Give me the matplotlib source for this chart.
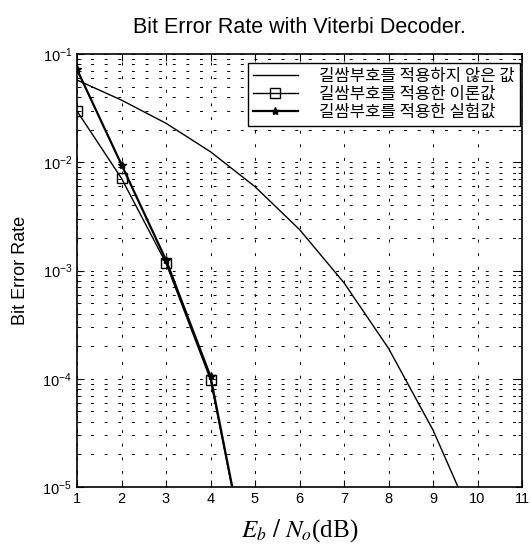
import matplotlib
matplotlib.use("Agg")
import matplotlib.pyplot as plt
from matplotlib.ticker import LogLocator, NullFormatter, FixedLocator

plt.rcParams['font.family'] = ['Noto Sans CJK KR', 'DejaVu Sans']

# Data
ebno = [1, 2, 3, 4, 5, 6, 7, 8, 9, 10]
ber_uncoded = [0.0575, 0.0375, 0.0229, 0.0125, 0.00595, 0.00239, 7.7e-4, 1.91e-4, 3.36e-5, 3.9e-6]
ebno_coded = [1, 2, 3, 4, 5]
ber_theory = [0.0297, 7.1e-3, 1.17e-3, 9.8e-5, 8.5e-7]
ber_sim = [0.072, 9.5e-3, 1.25e-3, 1.05e-4, 8.5e-7]

labels = ["길쌈부호를 적용하지 않은 값", "길쌈부호를 적용한 이론값", "길쌈부호를 적용한 실험값"]
xticks = [1, 2, 3, 4, 5, 6, 7, 8, 9, 10, 11]

fig = plt.figure(figsize=(5.31, 5.51), dpi=100)
ax = fig.add_axes([77/531, 1-487/551, (522-77)/531, (487-54)/551])

ax.semilogy(ebno, ber_uncoded, color='black', lw=1.0, label=labels[0])
ax.semilogy(ebno_coded, ber_theory, color='black', lw=1.0, marker='s', ms=7,
            mfc='none', mec='black', label=labels[1])
ax.semilogy(ebno_coded, ber_sim, color='black', lw=1.6, marker='*', ms=6,
            label=labels[2])

ax.set_xlim(1, 11)
ax.set_ylim(1e-5, 1e-1)
ax.xaxis.set_major_locator(FixedLocator(xticks))
ax.yaxis.set_major_locator(LogLocator(base=10, numticks=10))
ax.yaxis.set_minor_locator(LogLocator(base=10, subs=range(2, 10), numticks=20))
ax.yaxis.set_minor_formatter(NullFormatter())

dash = (0, (3, 11))
ax.grid(True, which='major', axis='x', color='black', lw=0.7, linestyle=dash)
ax.grid(True, which='both', axis='y', color='black', lw=0.7, linestyle=dash)

ax.tick_params(which='both', direction='in', top=True, right=True, labelsize=10.5)
ax.tick_params(which='major', length=5)
ax.tick_params(which='minor', length=3)
for lab in ax.get_xticklabels() + ax.get_yticklabels():
    lab.set_family(['Liberation Sans', 'DejaVu Sans'])
for s in ax.spines.values():
    s.set_linewidth(1.2)

ax.set_title("Bit Error Rate with Viterbi Decoder.", fontsize=15.5,
             family=['Liberation Sans', 'DejaVu Sans'], pad=15)
ax.set_ylabel("Bit Error Rate", fontsize=13, family=['Liberation Sans', 'DejaVu Sans'], labelpad=10)
ax.set_xlabel(r"$E_b\ /\ N_o$(dB)", fontsize=18, family=['Liberation Serif', 'DejaVu Serif'],
              math_fontfamily='stix', labelpad=8)

leg = ax.legend(loc='upper right', bbox_to_anchor=((520-77)/445, 1-(63-54)/433),
                fontsize=12, frameon=True, fancybox=False,
                edgecolor='black', framealpha=1, borderaxespad=0,
                handlelength=2.7, labelspacing=0.05, borderpad=0.3, handletextpad=1.3)
leg.get_frame().set_linewidth(1.0)

fig.savefig("out.png", dpi=100)
